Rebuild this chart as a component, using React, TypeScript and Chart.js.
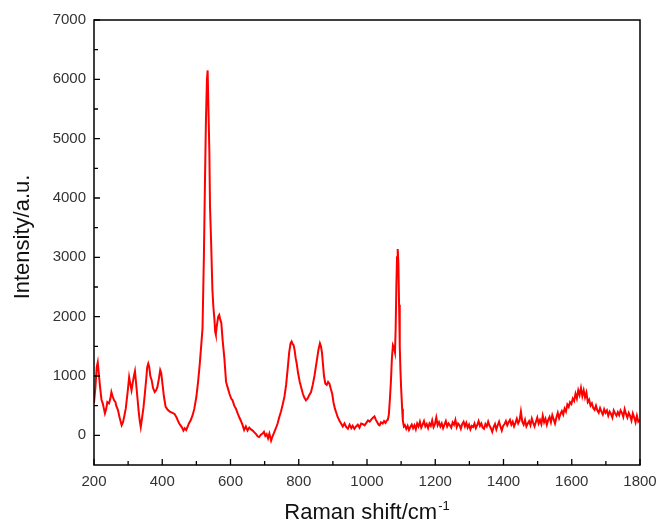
import React, { useEffect, useRef } from "react";
import { Chart, registerables } from "chart.js";

Chart.register(...registerables);

const shift: number[] = [
  200, 204, 208, 211, 214, 218, 222, 226, 232, 236, 239, 244, 248, 251, 255, 259, 263, 265, 270, 275,
  281, 285, 289, 293, 298, 303, 306, 310, 314, 317, 320, 323, 327, 331, 334, 337, 341, 345, 349, 353,
  356, 359, 362, 365, 369, 373, 378, 382, 386, 390, 394, 397, 401, 405, 410, 416, 422, 430, 436, 442,
  448, 452, 458, 462, 466, 470, 474, 478, 483, 489, 494, 500, 505, 510, 514, 518, 522, 525, 528, 531,
  533, 535, 538, 540, 543, 547, 550, 553, 555, 557, 560, 564, 567, 570, 573, 577, 582, 587, 592, 597,
  602, 606, 611, 616, 621, 626, 630, 635, 640, 645, 650, 655, 660, 665, 670, 675, 680, 684, 689, 694,
  698, 702, 706, 710, 714, 719, 723, 728, 733, 738, 743, 748, 753, 758, 763, 768, 772, 776, 779, 782,
  785, 788, 791, 794, 798, 803, 807, 812, 816, 821, 826, 831, 836, 841, 846, 850, 854, 858, 862, 865,
  868, 871, 874, 878, 882, 886, 890, 894, 898, 902, 906, 910, 914, 919, 924, 929, 934, 939, 944, 949,
  954, 958, 963, 968, 973, 978, 983, 988, 993, 998, 1003, 1008, 1013, 1018, 1022, 1026, 1030, 1034, 1037, 1041,
  1046, 1050, 1054, 1058, 1061, 1064, 1067, 1070, 1073, 1076, 1079, 1082, 1084, 1086, 1088, 1090, 1092, 1094, 1096, 1098,
  1100, 1103, 1105, 1108, 1111, 1115, 1119, 1123, 1127, 1131, 1135, 1139, 1143, 1147, 1151, 1155, 1159, 1163, 1167, 1171,
  1175, 1179, 1183, 1187, 1191, 1195, 1199, 1203, 1207, 1211, 1215, 1219, 1223, 1227, 1231, 1235, 1239, 1243, 1247, 1251,
  1255, 1259, 1263, 1267, 1271, 1275, 1279, 1283, 1287, 1291, 1295, 1299, 1303, 1307, 1311, 1315, 1319, 1323, 1327, 1331,
  1335, 1339, 1343, 1347, 1351, 1355, 1359, 1363, 1367, 1371, 1375, 1379, 1383, 1387, 1391, 1395, 1399, 1403, 1407, 1411,
  1415, 1419, 1423, 1427, 1431, 1435, 1439, 1443, 1447, 1451, 1455, 1459, 1463, 1467, 1471, 1475, 1479, 1483, 1487, 1491,
  1495, 1499, 1503, 1507, 1511, 1515, 1519, 1523, 1527, 1531, 1535, 1539, 1543, 1547, 1551, 1555, 1559, 1563, 1567, 1571,
  1575, 1579, 1583, 1587, 1591, 1595, 1599, 1603, 1607, 1611, 1615, 1619, 1623, 1627, 1631, 1635, 1639, 1643, 1647, 1651,
  1655, 1659, 1663, 1667, 1671, 1675, 1679, 1683, 1687, 1691, 1695, 1699, 1703, 1707, 1711, 1715, 1719, 1723, 1727, 1731,
  1735, 1739, 1743, 1747, 1751, 1755, 1759, 1763, 1767, 1771, 1775, 1779, 1783, 1787, 1791, 1795, 1800,
];

const intensity: number[] = [
  550, 800, 1150, 1230, 1050, 800, 600, 530, 370, 450, 560, 540, 620, 730, 650, 590, 560, 500, 430, 300,
  170, 220, 330, 450, 700, 980, 880, 760, 900, 1000, 1080, 900, 650, 400, 250, 140, 300, 470, 700, 950,
  1150, 1210, 1150, 1000, 930, 800, 730, 760, 820, 950, 1100, 1050, 850, 650, 480, 430, 400, 380, 360, 300,
  220, 180, 130, 80, 120, 90, 140, 200, 250, 340, 450, 650, 900, 1210, 1500, 1800, 3000, 4200, 5300, 6000,
  6150, 5600, 4800, 3850, 3300, 2450, 2150, 1950, 1750, 1700, 1850, 2000, 2030, 1950, 1900, 1600, 1300, 900, 800, 700,
  620, 590, 500, 450, 370, 300, 250, 180, 90, 150, 80, 130, 100, 80, 50, 20, -20, -30, 10, 30,
  60, -10, 20, -50, 30, -90, -20, 50, 120, 200, 310, 400, 520, 650, 850, 1150, 1400, 1550, 1580, 1540,
  1520, 1430, 1300, 1210, 1050, 900, 810, 700, 640, 590, 620, 680, 730, 850, 1000, 1150, 1300, 1450, 1550, 1500,
  1400, 1200, 1000, 870, 850, 900, 870, 780, 700, 550, 450, 380, 310, 250, 200, 150, 200, 140, 110, 180,
  120, 160, 110, 150, 180, 130, 200, 190, 170, 210, 250, 230, 270, 300, 320, 260, 220, 180, 170, 220,
  200, 240, 210, 250, 260, 350, 600, 900, 1300, 1520, 1480, 1400, 1800, 2500, 3000, 3140, 2900, 2200, 1500, 1100,
  800, 450, 250, 150, 170, 110, 160, 90, 140, 180, 120, 170, 100, 200, 150, 230, 130, 180, 240, 150,
  190, 120, 200, 160, 250, 140, 190, 300, 170, 220, 150, 200, 120, 180, 240, 150, 200, 170, 130, 220,
  180, 260, 140, 200, 170, 110, 190, 230, 150, 210, 130, 180, 100, 160, 140, 200, 120, 170, 240, 160,
  200, 130, 110, 190, 150, 230, 160, 120, 60, 140, 190, 100, 170, 230, 150, 80, 160, 190, 240, 170,
  220, 260, 180, 230, 150, 210, 280, 200, 250, 400, 230, 180, 260, 150, 200, 240, 170, 280, 210, 150,
  230, 300, 200, 260, 190, 330, 220, 280, 180, 260, 310, 220, 340, 270, 200, 300, 380, 290, 360, 410,
  350, 450, 400, 520, 480, 560, 530, 620, 580, 700, 620, 760, 680, 800, 660, 760, 640, 720, 560, 600,
  500, 540, 460, 430, 500, 420, 380, 460, 400, 350, 440, 380, 420, 330, 400, 360, 300, 420, 370, 330,
  390, 340, 420, 380, 310, 440, 360, 300, 380, 330, 250, 370, 300, 220, 330, 230, 260,
];

const xTicks: number[] = [200, 400, 600, 800, 1000, 1200, 1400, 1600, 1800];
const yTicks: number[] = [0, 1000, 2000, 3000, 4000, 5000, 6000, 7000];
const xTitle = "Raman shift/cm";
const xTitleSup = "-1";
const yTitle = "Intensity/a.u.";

const FONT = "'Liberation Sans', Arial, sans-serif";

const framePlugin = {
  id: "frameTicks",
  afterDraw(chart: any) {
    const { ctx, chartArea } = chart;
    const xs = chart.scales.x;
    const ys = chart.scales.y;
    ctx.save();
    ctx.strokeStyle = "#000";
    ctx.lineWidth = 1.5;
    ctx.strokeRect(chartArea.left, chartArea.top, chartArea.right - chartArea.left, chartArea.bottom - chartArea.top);
    ctx.lineWidth = 1.3;
    ctx.beginPath();
    for (let v = xs.min; v <= xs.max; v += 100) {
      const px = xs.getPixelForValue(v);
      const len = xTicks.includes(v) ? 6 : 4;
      ctx.moveTo(px, chartArea.bottom);
      ctx.lineTo(px, chartArea.bottom - len);
    }
    for (let v = 0; v <= ys.max; v += 500) {
      const py = ys.getPixelForValue(v);
      const len = yTicks.includes(v) ? 6 : 4;
      ctx.moveTo(chartArea.left, py);
      ctx.lineTo(chartArea.left + len, py);
    }
    ctx.stroke();

    // axis titles
    ctx.fillStyle = "#111";
    ctx.font = `22px ${FONT}`;
    const mainW = ctx.measureText(xTitle).width;
    ctx.font = `13px ${FONT}`;
    const supW = ctx.measureText(xTitleSup).width;
    const cx = (chartArea.left + chartArea.right) / 2;
    const startX = cx - (mainW + supW + 1) / 2;
    ctx.textAlign = "left";
    ctx.textBaseline = "alphabetic";
    ctx.font = `22px ${FONT}`;
    ctx.fillText(xTitle, startX, 519);
    ctx.font = `13px ${FONT}`;
    ctx.fillText(xTitleSup, startX + mainW + 1, 510);

    ctx.translate(23, 237);
    ctx.rotate(-Math.PI / 2);
    ctx.font = `22px ${FONT}`;
    ctx.textAlign = "center";
    ctx.textBaseline = "middle";
    ctx.fillText(yTitle, 0, 0);
    ctx.restore();
  },
};

export default function App() {
  const ref = useRef<HTMLCanvasElement | null>(null);
  useEffect(() => {
    document.body.style.margin = "0";
    if (!ref.current) return;
    const data = shift.map((x, i) => ({ x, y: intensity[i] }));
    const chart = new Chart(ref.current, {
      type: "line",
      data: {
        datasets: [
          {
            data,
            borderColor: "#ff0000",
            borderWidth: 2,
            pointRadius: 0,
            tension: 0,
            fill: false,
          },
        ],
      },
      options: {
        animation: false,
        responsive: true,
        maintainAspectRatio: false,
        layout: { padding: { left: 0, right: 18, top: 20, bottom: 0 } },
        plugins: { legend: { display: false }, tooltip: { enabled: false } },
        scales: {
          x: {
            type: "linear",
            min: 200,
            max: 1800,
            afterFit: (s: any) => {
              s.height = 59;
              s.paddingLeft = 0;
              s.paddingRight = 0;
            },
            afterBuildTicks: (s: any) => {
              s.ticks = xTicks.map((v) => ({ value: v }));
            },
            ticks: {
              font: { size: 15, family: FONT },
              color: "#333",
              padding: 8,
              maxRotation: 0,
              callback: (v: any) => String(v),
            },
            grid: { display: false, drawTicks: false },
            border: { display: false },
          },
          y: {
            type: "linear",
            min: -500,
            max: 7000,
            afterFit: (s: any) => {
              s.width = 94;
              s.paddingTop = 0;
              s.paddingBottom = 0;
            },
            afterBuildTicks: (s: any) => {
              s.ticks = yTicks.map((v) => ({ value: v }));
            },
            ticks: {
              font: { size: 15, family: FONT },
              color: "#333",
              padding: 8,
              callback: (v: any) => String(v),
            },
            grid: { display: false, drawTicks: false },
            border: { display: false },
          },
        },
      },
      plugins: [framePlugin],
    });
    return () => chart.destroy();
  }, []);
  return (
    <div style={{ width: 658, height: 524, position: "relative" }}>
      <canvas ref={ref} />
    </div>
  );
}
